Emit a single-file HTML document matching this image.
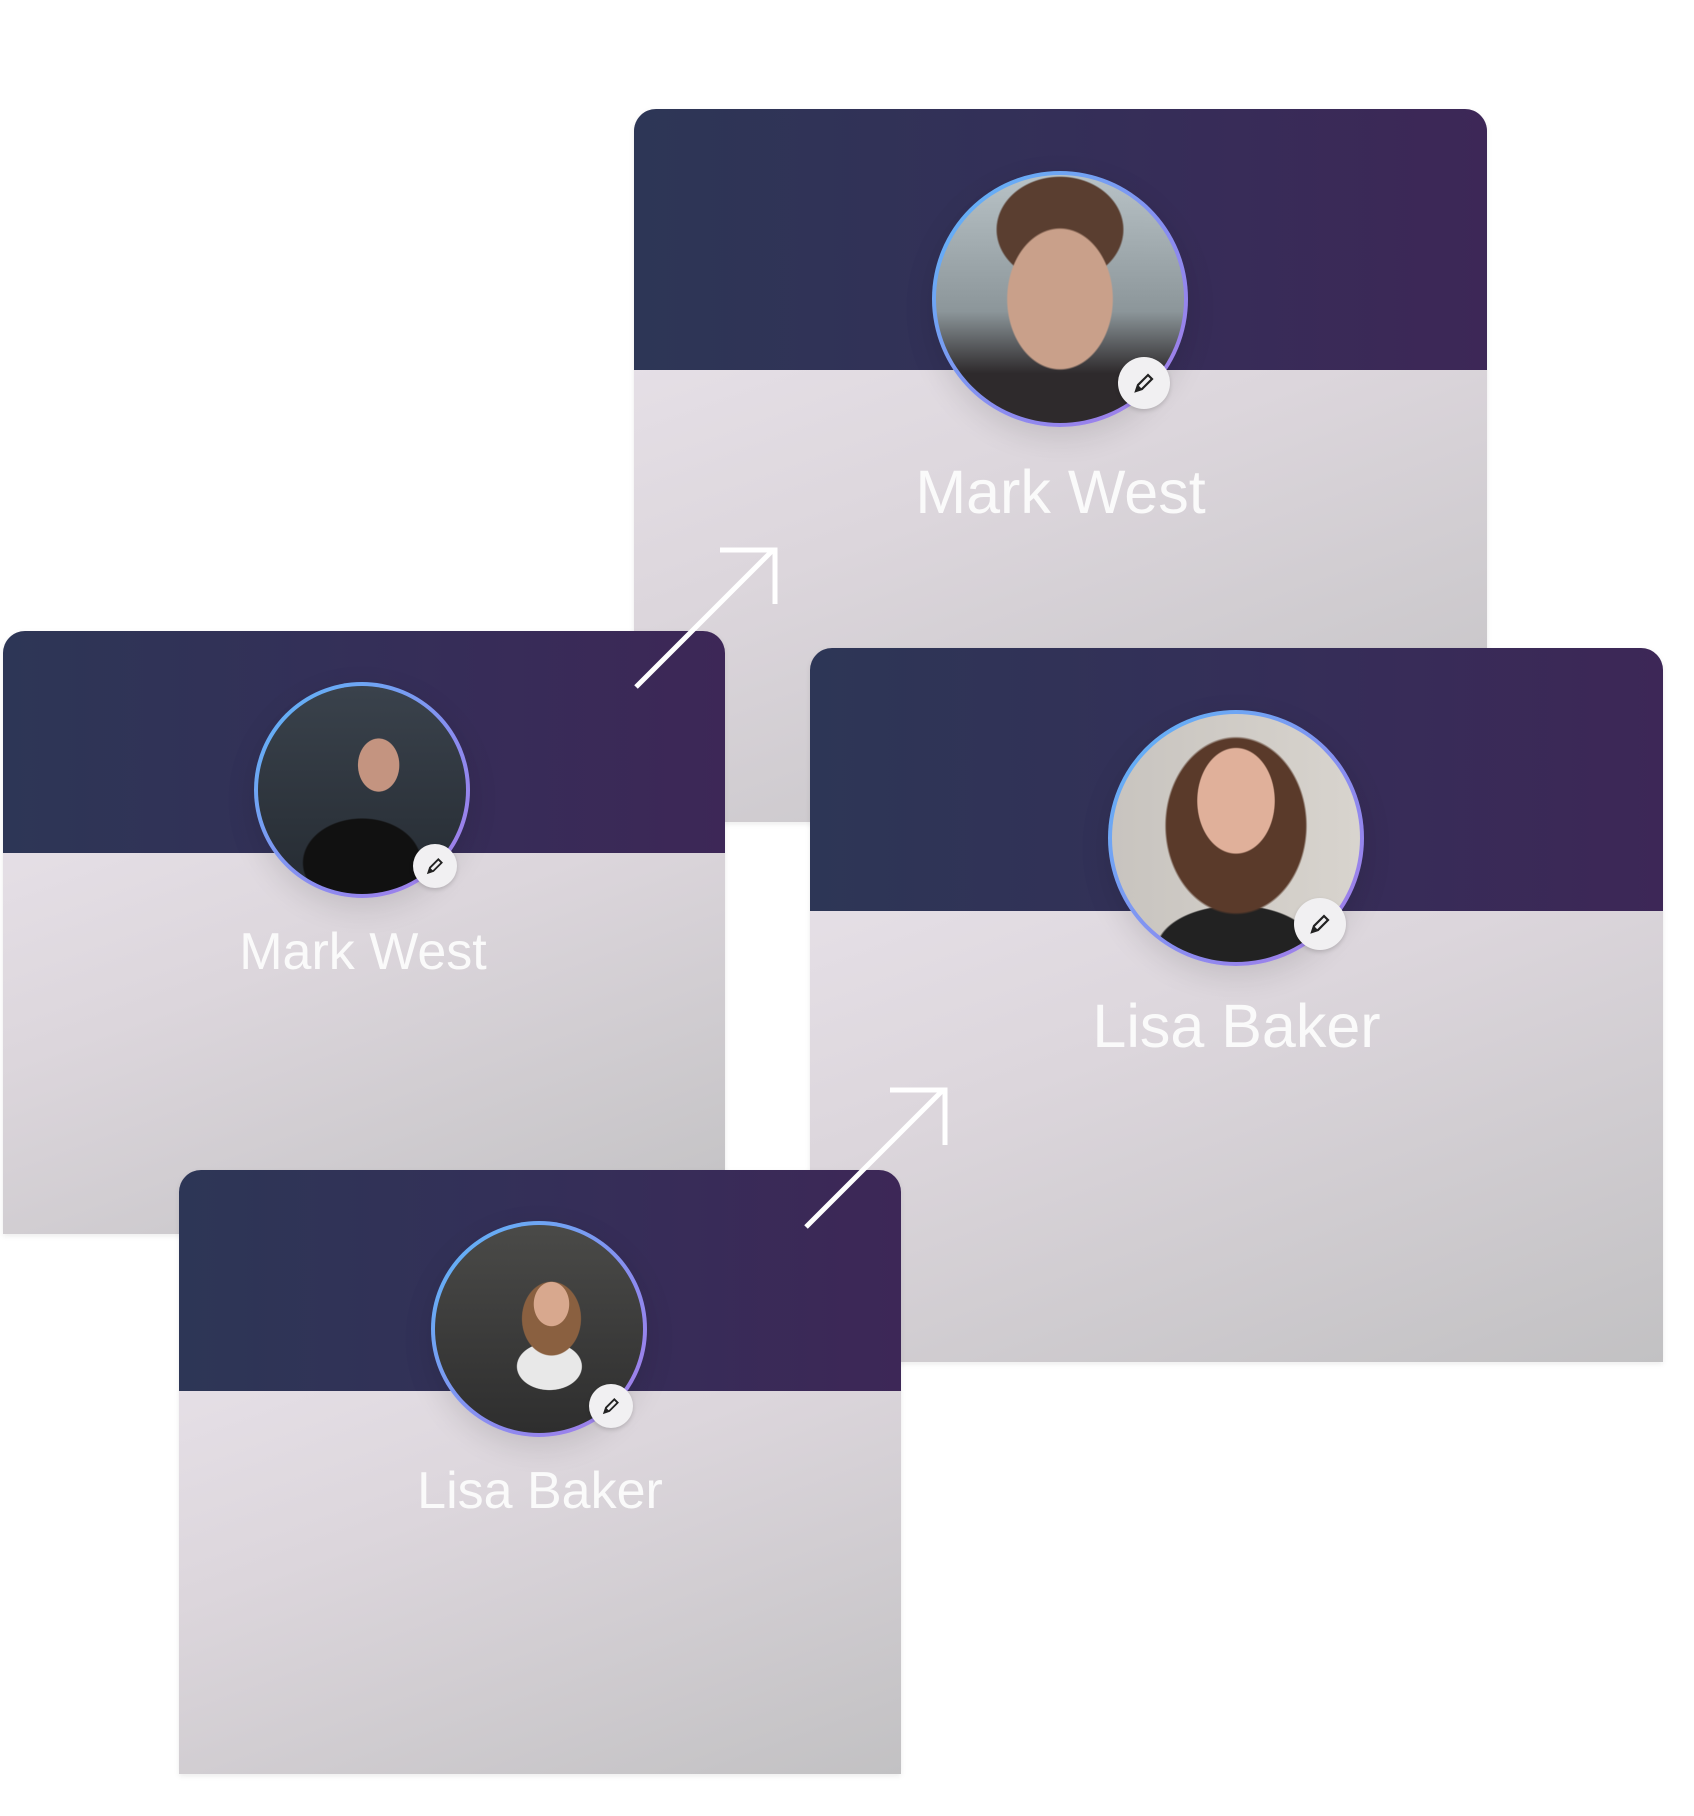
<!DOCTYPE html>
<html><head><meta charset="utf-8"><style>
html,body{margin:0;padding:0;background:#fff;width:1694px;height:1816px;overflow:hidden;position:relative;font-family:"Liberation Sans",sans-serif}
.card{position:absolute;border-radius:22px 22px 0 0;overflow:visible;box-shadow:0 2px 6px rgba(0,0,0,.08)}
.body{position:absolute;left:0;right:0;bottom:0;background:linear-gradient(160deg,#eee8f0 0%,#dcd6dc 50%,#c2c1c3 100%)}
.head{position:absolute;left:0;right:0;top:0;border-radius:22px 22px 0 0;background:linear-gradient(90deg,#2d3656,#342f58 50%,#3d2757)}
.av{position:absolute;border-radius:50%;background:linear-gradient(135deg,#5ab8f7,#8a8cf0 60%,#a77ae6);box-shadow:0 10px 30px rgba(0,0,0,.12)}
.ph{position:absolute;border-radius:50%;inset:4px}
.ed{position:absolute;border-radius:50%;background:#f1f0f2;display:flex;align-items:center;justify-content:center;box-shadow:0 2px 4px rgba(0,0,0,.15)}
.nm{position:absolute;left:0;right:0;text-align:center;color:#fafafa;white-space:nowrap}
</style></head><body>

<div class="card" style="left:634px;top:109px;width:853px;height:713px">
 <div class="body" style="top:0;border-radius:22px 22px 0 0"></div>
 <div class="head" style="height:261px"></div>
 <div class="av" style="left:298px;top:62px;width:256px;height:256px"><div class="ph" style="background:radial-gradient(ellipse 30% 38% at 50% 48%,#c89e88 0%,#b88a74 60%,#6e5040 100%),#7f8a90;background:radial-gradient(ellipse 30% 40% at 50% 50%,#c9a08a 0 70%,transparent 72%),radial-gradient(ellipse 36% 30% at 50% 22%,#5a3e30 0 70%,transparent 72%),linear-gradient(180deg,#b8c2c6 0%,#8c969a 55%,#2e2a2c 80%)"></div></div>
 <div class="ed" style="left:484px;top:248px;width:52px;height:52px"><svg width="24" height="24" viewBox="0 0 24 24"><path d="M4 20l2-6 10-10 4 4-10 10z" fill="none" stroke="#222" stroke-width="2.2"/><path d="M4 20l2-6 4 4z" fill="#222"/></svg></div>
 <div class="nm" style="top:348px;font-size:61px">Mark West</div>
</div>

<div class="card" style="left:3px;top:631px;width:722px;height:603px">
 <div class="body" style="top:0;border-radius:22px 22px 0 0"></div>
 <div class="head" style="height:222px"></div>
 <div class="av" style="left:251px;top:51px;width:216px;height:216px"><div class="ph" style="background:radial-gradient(ellipse 14% 18% at 58% 38%,#c49480 0 70%,transparent 72%),radial-gradient(ellipse 40% 30% at 50% 85%,#111 0 70%,transparent 72%),linear-gradient(180deg,#3a424c,#252b32)"></div></div>
 <div class="ed" style="left:410px;top:213px;width:44px;height:44px"><svg width="20" height="20" viewBox="0 0 24 24"><path d="M4 20l2-6 10-10 4 4-10 10z" fill="none" stroke="#222" stroke-width="2.2"/><path d="M4 20l2-6 4 4z" fill="#222"/></svg></div>
 <div class="nm" style="top:291px;font-size:52px;left:-2px">Mark West</div>
</div>

<div class="card" style="left:810px;top:648px;width:853px;height:714px">
 <div class="body" style="top:0;border-radius:22px 22px 0 0"></div>
 <div class="head" style="height:263px"></div>
 <div class="av" style="left:298px;top:62px;width:256px;height:256px"><div class="ph" style="background:radial-gradient(ellipse 22% 30% at 50% 35%,#e0b09a 0 70%,transparent 72%),radial-gradient(ellipse 40% 50% at 50% 45%,#5a3a2a 0 70%,transparent 72%),radial-gradient(ellipse 45% 25% at 50% 95%,#222 0 70%,transparent 72%),linear-gradient(90deg,#c8c4bf,#d8d4ce)"></div></div>
 <div class="ed" style="left:484px;top:250px;width:52px;height:52px"><svg width="24" height="24" viewBox="0 0 24 24"><path d="M4 20l2-6 10-10 4 4-10 10z" fill="none" stroke="#222" stroke-width="2.2"/><path d="M4 20l2-6 4 4z" fill="#222"/></svg></div>
 <div class="nm" style="top:343px;font-size:61px">Lisa Baker</div>
</div>

<div class="card" style="left:179px;top:1170px;width:722px;height:604px">
 <div class="body" style="top:0;border-radius:22px 22px 0 0"></div>
 <div class="head" style="height:221px"></div>
 <div class="av" style="left:252px;top:51px;width:216px;height:216px"><div class="ph" style="background:radial-gradient(ellipse 12% 15% at 56% 38%,#d8a88e 0 70%,transparent 72%),radial-gradient(ellipse 20% 25% at 56% 45%,#8a6040 0 70%,transparent 72%),radial-gradient(ellipse 22% 16% at 55% 68%,#e8e8e8 0 70%,transparent 72%),linear-gradient(180deg,#4a4a48,#2e2e2e)"></div></div>
 <div class="ed" style="left:410px;top:214px;width:44px;height:44px"><svg width="20" height="20" viewBox="0 0 24 24"><path d="M4 20l2-6 10-10 4 4-10 10z" fill="none" stroke="#222" stroke-width="2.2"/><path d="M4 20l2-6 4 4z" fill="#222"/></svg></div>
 <div class="nm" style="top:291px;font-size:52px">Lisa Baker</div>
</div>

<svg width="1694" height="1816" style="position:absolute;left:0;top:0" fill="none" stroke="#fff" stroke-width="5">
 <path d="M636 687L773 550M720 550H775V604"/>
 <path d="M806 1227L943 1090M890 1090H945V1145"/>
</svg>
</body></html>
